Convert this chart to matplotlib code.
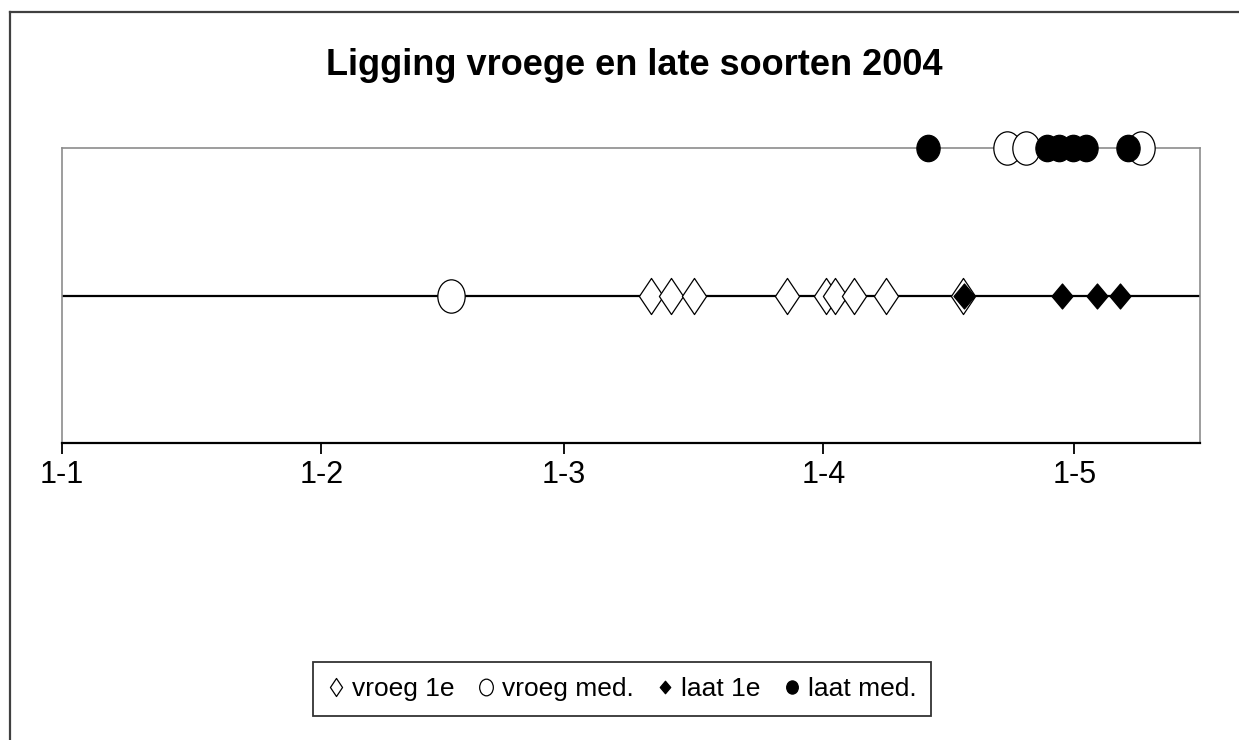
import matplotlib
matplotlib.use("Agg")
import matplotlib.pyplot as plt
from matplotlib.path import Path
from matplotlib.transforms import Affine2D
from matplotlib.lines import Line2D

# Dates as days since 1 Jan 2004, y = row (1 = first date, 2 = median)
vroeg_1e_x = [70.4, 72.8, 75.5, 86.6, 91.3, 92.4, 94.6, 98.5, 107.7]
vroeg_1e_y = [1, 1, 1, 1, 1, 1, 1, 1, 1]
vroeg_med_x = [46.5, 112.9, 115.2, 128.9]
vroeg_med_y = [1, 2, 2, 2]
laat_1e_x = [107.8, 119.5, 123.7, 126.4]
laat_1e_y = [1, 1, 1, 1]
laat_med_x = [103.5, 117.7, 119.2, 120.8, 122.4, 127.4]
laat_med_y = [2, 2, 2, 2, 2, 2]

tick_days = [0, 31, 60, 91, 121]
tick_labels = ["1-1", "1-2", "1-3", "1-4", "1-5"]


def diamond(w):
    return Path([(0, 1), (w, 0), (0, -1), (-w, 0), (0, 1)],
                [Path.MOVETO, Path.LINETO, Path.LINETO, Path.LINETO, Path.CLOSEPOLY])


def ellipse(r):
    return Affine2D().scale(r, 1).transform_path(Path.unit_circle())


fig = plt.figure(figsize=(12.39, 7.40), dpi=100)
ax = fig.add_axes([62 / 1239, 1 - 443 / 740, (1200 - 62) / 1239, (443 - 148) / 740])

ax.axhline(1, color="black", lw=1.6, zorder=1)

ax.plot(vroeg_1e_x, vroeg_1e_y, ls="none", marker=diamond(0.67), ms=26,
        mfc="white", mec="black", mew=0.9, clip_on=False, label="vroeg 1e", zorder=3)
ax.plot(vroeg_med_x, vroeg_med_y, ls="none", marker=ellipse(0.82), ms=24,
        mfc="white", mec="black", mew=0.9, clip_on=False, label="vroeg med.", zorder=3)
ax.plot(laat_1e_x, laat_1e_y, ls="none", marker=diamond(0.84), ms=18,
        mfc="black", mec="black", mew=0.9, clip_on=False, label="laat 1e", zorder=4)
ax.plot(laat_med_x, laat_med_y, ls="none", marker=ellipse(0.88), ms=19,
        mfc="black", mec="black", mew=0.9, clip_on=False, label="laat med.", zorder=4)

ax.set_xlim(0, 136)
ax.set_ylim(0, 2)
ax.set_yticks([])
ax.set_xticks(tick_days)
ax.set_xticklabels(tick_labels, fontsize=22, family="Liberation Sans")
ax.tick_params(axis="x", direction="out", length=8, width=1.3, color="black", pad=4)

for s in ["top", "right", "left"]:
    ax.spines[s].set_color("#8c8c8c")
    ax.spines[s].set_linewidth(1.2)
ax.spines["bottom"].set_color("black")
ax.spines["bottom"].set_linewidth(1.6)

fig.text(634 / 1239, 1 - 75 / 740, "Ligging vroege en late soorten 2004",
         ha="center", va="baseline", fontsize=26, fontweight="bold",
         family="Liberation Sans")

leg = fig.legend(loc="center", bbox_to_anchor=(622 / 1239, 1 - 689 / 740), ncol=4,
                 markerscale=0.5, handlelength=0.6, handletextpad=0.3, columnspacing=0.9,
                 frameon=True, fancybox=False, edgecolor="black", borderpad=0.55,
                 prop={"family": "Liberation Sans", "size": 19})
leg.get_frame().set_linewidth(1.3)

# chart area frame (only top and left visible in the crop)
fig.add_artist(Line2D([10 / 1239, 10 / 1239], [0, 1 - 12 / 740], transform=fig.transFigure,
                      color="#404040", lw=1.6))
fig.add_artist(Line2D([10 / 1239, 1], [1 - 12 / 740, 1 - 12 / 740], transform=fig.transFigure,
                      color="#404040", lw=1.6))

fig.savefig("out.png", dpi=100)
